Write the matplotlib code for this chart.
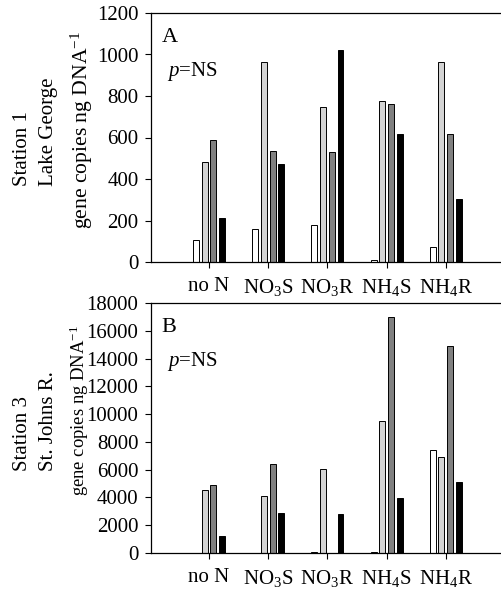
import numpy as np
import matplotlib
matplotlib.use("Agg")
import matplotlib.pyplot as plt

plt.rcParams['font.family'] = ['Liberation Serif']
plt.rcParams['mathtext.fontset'] = 'custom'
plt.rcParams['mathtext.rm'] = 'Liberation Serif'
plt.rcParams['mathtext.it'] = 'Liberation Serif:italic'

# treatments on the x axis
categories = ['no N', r'NO$_3$S', r'NO$_3$R', r'NH$_4$S', r'NH$_4$R']

# Station 1 Lake George (four series per treatment)
st1_white = [105, 161, 176, 8, 73]
st1_light = [481, 963, 745, 774, 963]
st1_dark = [589, 537, 529, 763, 619]
st1_black = [210, 471, 1024, 619, 302]

# Station 3 St. Johns R.
st3_white = [0, 30, 80, 40, 7425]
st3_light = [4551, 4072, 6035, 9508, 6898]
st3_dark = [4910, 6419, 0, 16957, 14897]
st3_black = [1245, 2898, 2778, 3952, 5125]

colors = ['white', '#d3d3d3', '#808080', 'black']

fig = plt.figure(figsize=(5.02, 5.90), dpi=100)
W, H = 502, 590


def panel(top, bottom, series, ymax, yticks, letter, station, lab_size, lab_x, lab_y, st_y):
    ax = fig.add_axes([151 / W, 1 - bottom / H, (505 - 151) / W, (bottom - top) / H])
    x = np.arange(len(categories))
    offs = [-1.5, -0.5, 0.5, 1.5]
    for vals, c, o in zip(series, colors, offs):
        ax.bar(x + o * 0.147, vals, width=0.1, color=c, edgecolor='black', linewidth=0.7)
    ax.set_xlim(-0.98, 5.0)
    ax.set_ylim(0, ymax)
    ax.set_yticks(yticks)
    ax.set_xticks(x)
    ax.set_xticklabels(categories, fontsize=15)
    ax.tick_params(axis='y', labelsize=15, direction='out', length=4, width=0.8, pad=5)
    ax.tick_params(axis='x', direction='out', length=4, width=0.8, pad=7)
    ax.spines['right'].set_visible(False)
    for s in ['left', 'bottom', 'top']:
        ax.spines[s].set_linewidth(0.9)
    ax.text(0.03, 0.90, letter, transform=ax.transAxes, fontsize=16, va='center')
    ax.text(0.045, 0.765, r'$\it{p}$=NS', transform=ax.transAxes, fontsize=15, va='center')
    ax.set_ylabel(r'gene copies ng DNA$^{-1}$', fontsize=lab_size)
    # label position in figure pixels (right edge of the rotated text)
    ax.yaxis.set_label_coords(lab_x / W, 1 - lab_y / H, transform=fig.transFigure)
    fig.text(35.5 / W, 1 - st_y / H, station, rotation=90, ha='center', va='center',
             fontsize=15, linespacing=1.45, multialignment='left')
    return ax


panel(13, 262, [st1_white, st1_light, st1_dark, st1_black], 1200,
      [0, 200, 400, 600, 800, 1000, 1200], 'A', 'Station 1\nLake George',
      15.6, 95, 130, 132)
panel(303, 553, [st3_white, st3_light, st3_dark, st3_black], 18000,
      list(range(0, 18001, 2000)), 'B', 'Station 3\nSt. Johns R.',
      13.4, 91, 411, 421)

fig.savefig('out.png', dpi=100)
